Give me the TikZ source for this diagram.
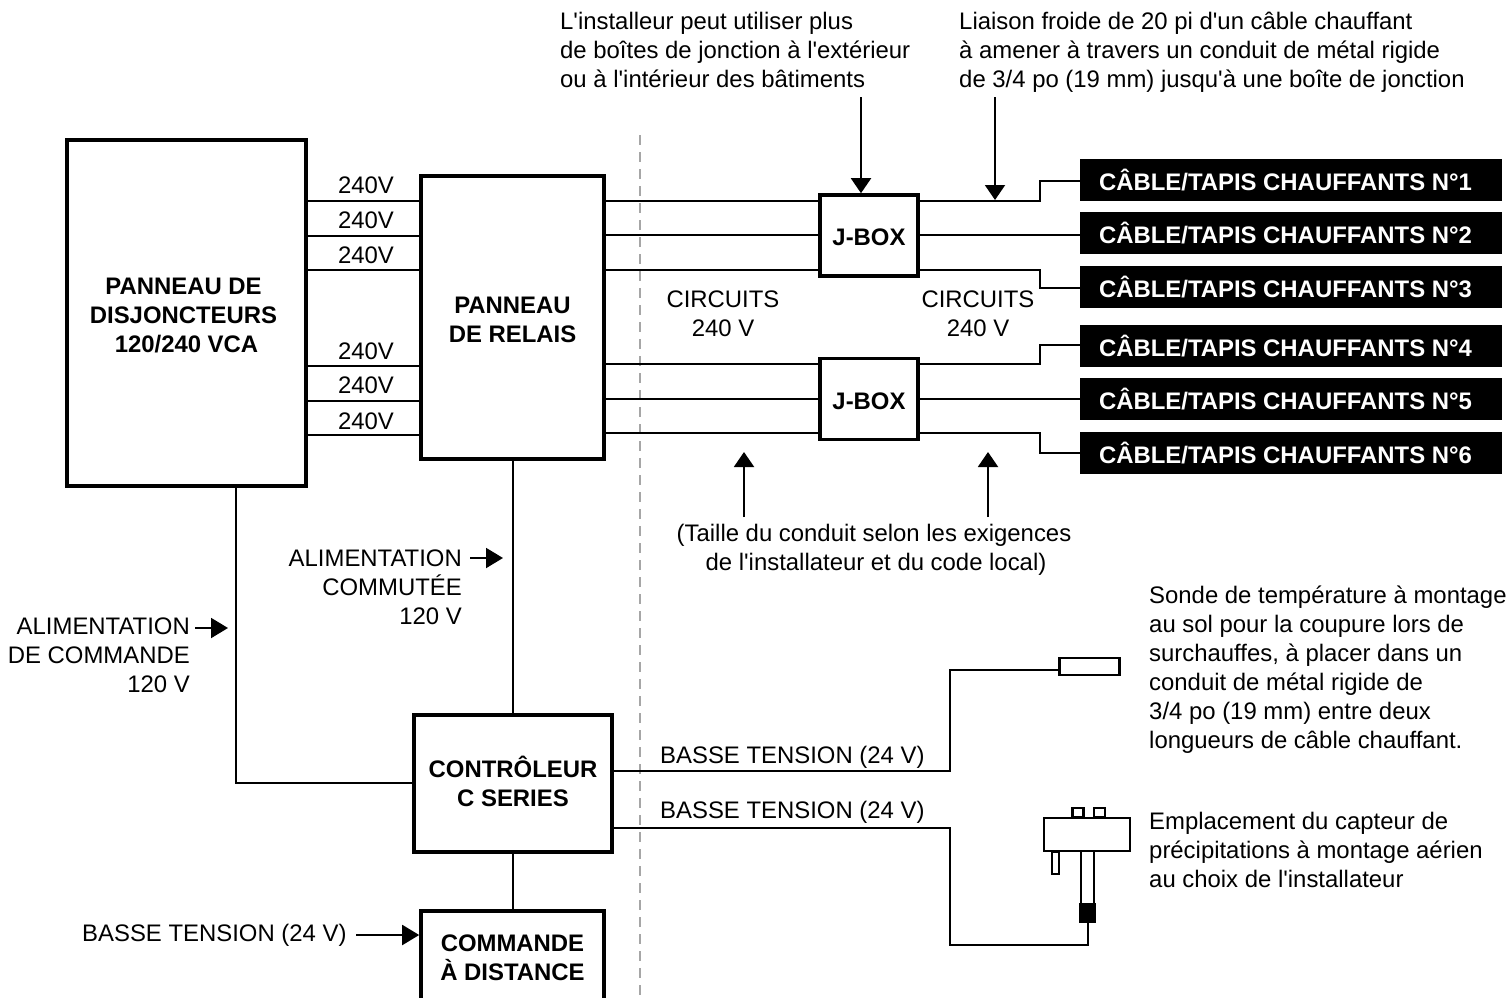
\documentclass[tikz,border=0pt]{standalone}
\usepackage{fontspec}
\setmainfont{Liberation Sans}[Ligatures=TeXOff]
\usetikzlibrary{arrows.meta, positioning}
\newcommand{\lowertext}{\rule{0pt}{21pt}}
\newcommand{\raisetext}[1]{\rule[-#1]{0pt}{#1}}

\begin{document}
\begin{tikzpicture}[
  x=1pt, y=-1pt,
  box/.style={rectangle, draw=black, fill=white, line width=3.6pt, inner sep=0pt,
              font=\fontsize{23.9}{29}\selectfont\bfseries, align=center},
  cable/.style={rectangle, fill=black, text=white, inner sep=0pt, outer sep=0pt,
                minimum width=422pt, minimum height=42pt,
                font=\fontsize{23.9}{26}\selectfont\bfseries},
  label/.style={inner sep=0pt, font=\fontsize{23.9}{29}\selectfont},
  small/.style={rectangle, draw=black, fill=white, line width=2.3pt, inner sep=0pt},
  wire/.style={line width=2pt},
  arrow/.style={-{Triangle[length=15pt, width=20pt]}, line width=2pt},
  sidearrow/.style={-{Triangle[length=17pt, width=20pt]}, line width=2pt},
]
  \useasboundingbox (0,0) rectangle (1510,998);

  \draw[line width=1.6pt, gray!70, dash pattern=on 10pt off 7pt] (640,135) coordinate (sep1) -- (640,998) coordinate (sep2);

  % main boxes
  \node[box, minimum width=239pt, minimum height=346pt] (panel) at (186.5,313) {\lowertext\hspace*{-6pt}PANNEAU DE\\\hspace*{-6pt}DISJONCTEURS\\120/240 VCA};
  \node[box, minimum width=183pt, minimum height=283pt] (relay) at (512.5,317.5) {\lowertext PANNEAU\\DE RELAIS};
  \node[box, minimum width=98pt, minimum height=81pt] (jbox1) at (869,235.5) {\lowertext J-BOX};
  \node[box, minimum width=98pt, minimum height=81pt] (jbox2) at (869,399) {\lowertext J-BOX};
  \node[box, minimum width=198pt, minimum height=137pt] (ctrl) at (513,783.5) {CONTRÔLEUR\\C SERIES\raisetext{4pt}};
  \node[box, minimum width=183pt, minimum height=100pt] (remote) at (512.5,961) {COMMANDE\\À DISTANCE\raisetext{7pt}};

  % heating cables
  \node[cable] (c1) at (1291,180) {\hspace*{-11pt}CÂBLE/TAPIS CHAUFFANTS N°1};
  \node[cable, below=11pt of c1] (c2) {\hspace*{-11pt}CÂBLE/TAPIS CHAUFFANTS N°2};
  \node[cable, below=12pt of c2] (c3) {\hspace*{-11pt}CÂBLE/TAPIS CHAUFFANTS N°3};
  \node[cable, below=17pt of c3] (c4) {\hspace*{-11pt}CÂBLE/TAPIS CHAUFFANTS N°4};
  \node[cable, below=11pt of c4] (c5) {\hspace*{-11pt}CÂBLE/TAPIS CHAUFFANTS N°5};
  \node[cable, below=12pt of c5] (c6) {\hspace*{-11pt}CÂBLE/TAPIS CHAUFFANTS N°6};

  % sensors
  \node[small, minimum width=60pt, minimum height=17pt] (probe) at (1089.5,666.5) {};
  \node[small, minimum width=11pt, minimum height=9pt] (tab1) at (1078,812.5) {};
  \node[small, minimum width=11pt, minimum height=9pt] (tab2) at (1099.5,812.5) {};
  \node[small, minimum width=7pt, minimum height=22pt] (leg) at (1055.5,863) {};
  \node[small, minimum width=13pt, minimum height=53pt] (tube) at (1087.5,877.5) {};
  \node[small, fill=black, minimum width=14.5pt, minimum height=17.5pt] (tip) at (1087.5,913) {};
  \node[small, minimum width=86pt, minimum height=33pt] (rain) at (1087,834.5) {};

  % wires
  \foreach \y in {201,236,270,366,401,435}
    \draw[wire] (panel.east |- 0,\y) -- (relay.west |- 0,\y);
  \foreach \y in {201,235,270}
    \draw[wire] (relay.east |- 0,\y) -- (jbox1.west |- 0,\y);
  \foreach \y in {364,399,433}
    \draw[wire] (relay.east |- 0,\y) -- (jbox2.west |- 0,\y);

  \draw[wire] (jbox1.east |- 0,201) -| (1040,181) -- (c1.west |- 0,181);
  \draw[wire] (jbox1.east |- 0,235) -- (c2.west |- 0,235);
  \draw[wire] (jbox1.east |- 0,270) -| (1040,288) -- (c3.west |- 0,288);
  \draw[wire] (jbox2.east |- 0,364) -| (1040,345) -- (c4.west |- 0,345);
  \draw[wire] (jbox2.east |- 0,399) -- (c5.west |- 0,399);
  \draw[wire] (jbox2.east |- 0,433) -| (1040,453) -- (c6.west |- 0,453);

  \draw[wire] (panel.south -| 236,0) |- (ctrl.west |- 0,783);
  \draw[wire] (relay.south -| 513,0) -- (ctrl.north -| 513,0);
  \draw[wire] (ctrl.south -| 513,0) -- (remote.north -| 513,0);
  \draw[wire] (ctrl.east |- 0,771) -| (950,670) -- (probe.west |- 0,670);
  \draw[wire] (ctrl.east |- 0,828) -| (950,945) -| (tip.south);

  % callout arrows
  \coordinate (a1) at (861,97);
  \coordinate (a2) at (995,97);
  \coordinate (a3) at (744,517);
  \coordinate (a4) at (988,517);
  \coordinate (a5) at (195,628);
  \coordinate (a6) at (470,558);
  \coordinate (a7) at (356,935);
  \draw[arrow] (a1) -- (jbox1.north -| a1);
  \draw[arrow] (a2) -- (995,200);
  \draw[arrow] (a3) -- (744,452);
  \draw[arrow] (a4) -- (988,452);
  \draw[sidearrow] (a5) -- (228,628);
  \draw[sidearrow] (a6) -- (503,558);
  \draw[sidearrow] (a7) -- (remote.west |- a7);

  % labels
  \foreach \y/\n in {185/v1,220/v2,255/v3,351/v4,385/v5,421/v6}
    \node[label] (\n) at (366,\y) {240V};

  \node[label, anchor=west, align=left] (note1) at (560,50) {L'installeur peut utiliser plus\\de boîtes de jonction à l'extérieur\\ou à l'intérieur des bâtiments};
  \node[label, anchor=west, align=left] (note2) at (959,52) {Liaison froide de 20 pi d'un câble chauffant\\à amener à travers un conduit de métal rigide\\de 3/4 po (19 mm) jusqu'à une boîte de jonction};
  \node[label, align=center] (circ1) at (723,314) {CIRCUITS\\240 V};
  \node[label, align=center] (circ2) at (978,314) {CIRCUITS\\240 V};
  \node[label, align=center] (note3) at (874,550) {(Taille du conduit selon les exigences\\\hspace*{4pt}de l'installateur et du code local)};
  \node[label, anchor=east, align=right] (feed1) at (462,587) {ALIMENTATION\\COMMUTÉE\\120 V};
  \node[label, anchor=east, align=right] (feed2) at (190,655) {ALIMENTATION\\DE COMMANDE\\120 V};
  \node[label, anchor=west] (low1) at (660,757) {BASSE TENSION (24 V)};
  \node[label, anchor=west] (low2) at (660,812) {BASSE TENSION (24 V)};
  \node[label, anchor=west] (low3) at (82,935) {BASSE TENSION (24 V)};
  \node[label, anchor=west, align=left] (note4) at (1149,670) {Sonde de température à montage\\au sol pour la coupure lors de\\surchauffes, à placer dans un\\conduit de métal rigide de\\3/4 po (19 mm) entre deux\\longueurs de câble chauffant.};
  \node[label, anchor=west, align=left] (note5) at (1149,849.5) {Emplacement du capteur de\\précipitations à montage aérien\\au choix de l'installateur};
\end{tikzpicture}
\end{document}
